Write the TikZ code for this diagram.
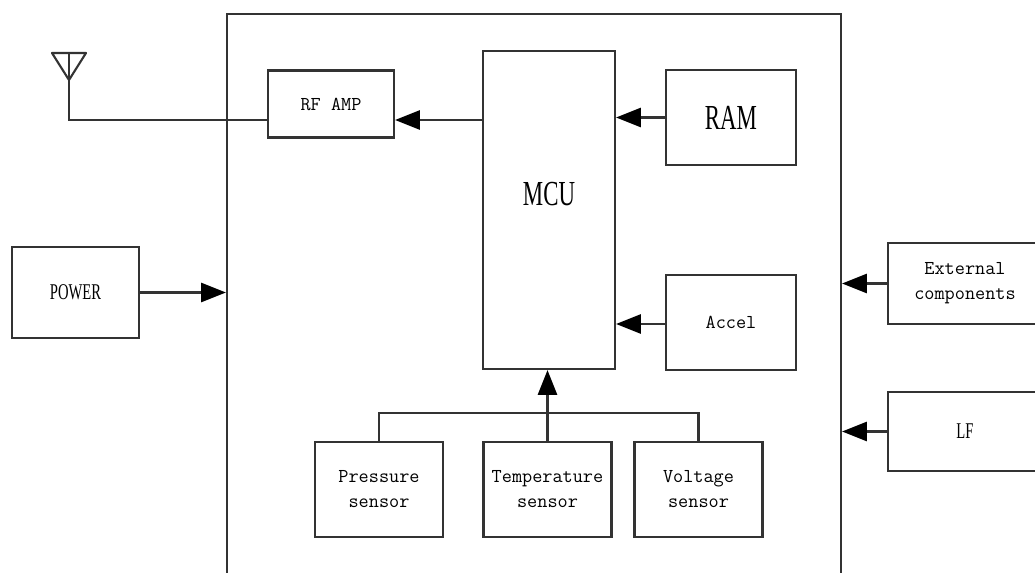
\documentclass[tikz,border=0pt]{standalone}
\usepackage{fontspec}
\newfontfamily\condserif[FakeStretch=0.65]{Liberation Serif}
\usetikzlibrary{arrows.meta}
\tikzset{Block/.style={draw=black!80,line width=1.5pt,fill=white,inner sep=0pt,
    align=center,font=\ttfamily\fontsize{14}{17.8}\selectfont},
  BigLabel/.style={font=\condserif\fontsize{25}{28}\selectfont},
  SmallLabel/.style={font=\condserif\fontsize{16}{18}\selectfont},
  Wire/.style={draw=black!80,line width=1.5pt},
  Arr/.style={Wire,-{Triangle[length=0.62cm,width=0.48cm,color=black]}}}

\begin{document}
\begin{tikzpicture}[x=0.025cm,y=-0.025cm]
        \clip (0,0) rectangle (1035,573);
        \fill[white] (0,0) rectangle (1035,573);
        \node[Block,minimum width=15.35cm,minimum height=15.15cm] (board) at (534,317) {};
        \node[Block,minimum width=3.15cm,minimum height=1.675cm] (rf) at (331,104) {RF AMP};
        \node[Block,minimum width=3.3cm,minimum height=7.95cm,
              label={[BigLabel,yshift=0.4cm]center:MCU}] (mcu) at (549,210) {};
        \node[Block,BigLabel,minimum width=3.25cm,minimum height=2.375cm] (ram) at (731,117.5) {RAM};
        \node[Block,minimum width=3.25cm,minimum height=2.375cm] (accel) at (731,322.5) {Accel};
        \node[Block,SmallLabel,minimum width=3.175cm,minimum height=2.275cm] (power) at (75.5,292.5) {POWER};
        \node[Block,minimum width=3.85cm,minimum height=2.025cm] (ext) at (965,283.5) {External\\components};
        \node[Block,SmallLabel,minimum width=3.85cm,minimum height=1.975cm] (lf) at (965,431.5) {LF};
        \node[Block,minimum width=3.2cm,minimum height=2.375cm] (pres) at (379,489.5) {Pressure\\sensor};
        \node[Block,minimum width=3.2cm,minimum height=2.375cm] (temp) at (547.5,489.5) {Temperature\\sensor};
        \node[Block,minimum width=3.2cm,minimum height=2.375cm] (volt) at (698.5,489.5) {Voltage\\sensor};
        % antenna
        \coordinate (ant) at (69,53);
        \draw[Wire,line join=round] (52,53) -- (86,53) -- (69,80) -- cycle;
        \draw[Wire] (ant) |- (rf.west |- 0,120);
        % arrows
        \draw[Arr] (mcu.west |- 0,120) -- (rf.east |- 0,120);
        \draw[Arr] (ram.west) -- (mcu.east |- ram);
        \draw[Arr] (accel.west |- 0,324) -- (mcu.east |- 0,324);
        \draw[Arr] (power.east) -- (board.west |- power);
        \draw[Arr] (ext.west) -- (board.east |- ext);
        \draw[Arr] (lf.west) -- (board.east |- lf);
        % sensor bus
        \coordinate (bus) at (547.5,413);
        \draw[Wire] (pres.north) |- (bus) -| (volt.north);
        \draw[Arr] (temp.north) -- (temp.north |- mcu.south);
\end{tikzpicture}
\end{document}
